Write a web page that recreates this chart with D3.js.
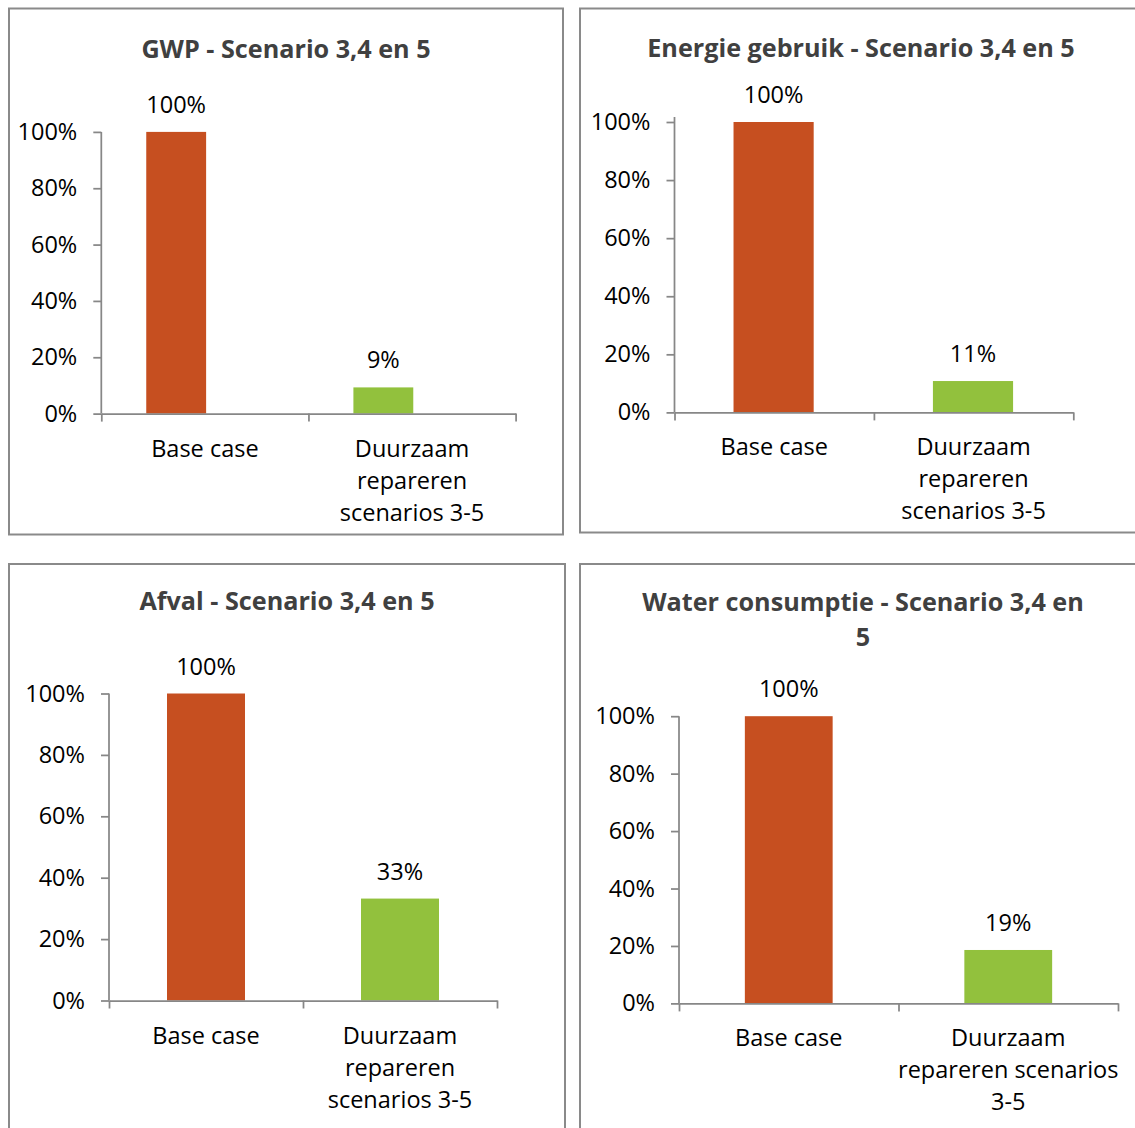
<!DOCTYPE html>
<html>
<head>
<meta charset="utf-8">
<script src="https://cdn.jsdelivr.net/npm/d3@7"></script>
<style>
  html, body { margin: 0; padding: 0; background: #fff; }
  svg { display: block; font-family: "Open Sans", sans-serif; }
</style>
</head>
<body>
<svg id="chart" width="1135" height="1128"></svg>
<script>
// chart data
const titles = [
  ["GWP - Scenario 3,4 en 5"],
  ["Energie gebruik - Scenario 3,4 en 5"],
  ["Afval - Scenario 3,4 en 5"],
  ["Water consumptie - Scenario 3,4 en", "5"],
];
const categories = ["Base case", "Duurzaam repareren scenarios 3-5"];
const categoryLines = [
  [["Base case"], ["Duurzaam", "repareren", "scenarios 3-5"]],
  [["Base case"], ["Duurzaam", "repareren", "scenarios 3-5"]],
  [["Base case"], ["Duurzaam", "repareren", "scenarios 3-5"]],
  [["Base case"], ["Duurzaam", "repareren scenarios", "3-5"]],
];
const gwpValues = [1.0, 0.093];
const energieValues = [1.0, 0.108];
const afvalValues = [1.0, 0.332];
const waterValues = [1.0, 0.186];
const yTickValues = [0, 0.2, 0.4, 0.6, 0.8, 1.0];

const barColors = ["#c64f20", "#92c13d"];
const axisColor = "#878787";

// panel layout (pixels)
const panels = [
  { values: gwpValues, box: [9, 8.5, 563, 534.5], x: [101.3, 515.6], y: [413.6, 131.9], titleY: 58, barWidth: 0.289, barOffset: 0.217, overshoot: 0 },
  { values: energieValues, box: [580, 8.5, 1142, 532.5], x: [674.5, 1073.3], y: [412.4, 122], titleY: 57, barWidth: 0.402, barOffset: 0.296, overshoot: 5 },
  { values: afvalValues, box: [9, 564, 565, 1140], x: [109, 497], y: [1000.5, 693.5], titleY: 610, barWidth: 0.402, barOffset: 0.299, overshoot: 0 },
  { values: waterValues, box: [580, 564, 1146, 1140], x: [679, 1118], y: [1003.4, 716.2], titleY: 610.5, barWidth: 0.40, barOffset: 0.30, overshoot: 0 },
];

const svg = d3.select("#chart");
const pct = d3.format(".0%");

function drawPanel(cfg, i) {
  const g = svg.append("g").attr("class", "panel");
  const [x0, y0, x1, y1] = cfg.box;

  g.append("rect")
    .attr("x", x0).attr("y", y0)
    .attr("width", x1 - x0).attr("height", y1 - y0)
    .attr("fill", "#fff")
    .attr("stroke", "#8a8a8a")
    .attr("stroke-width", 2);

  // title
  g.append("text")
    .attr("x", (x0 + x1) / 2)
    .attr("y", cfg.titleY)
    .attr("text-anchor", "middle")
    .attr("font-weight", 700)
    .attr("font-size", 25.2)
    .attr("fill", "#404040")
    .selectAll("tspan")
    .data(titles[i])
    .join("tspan")
    .attr("x", (x0 + x1) / 2)
    .attr("dy", (d, k) => (k === 0 ? 0 : 35))
    .text((d) => d);

  const xScale = d3.scaleBand().domain(categories).range(cfg.x).padding(0);
  const yScale = d3.scaleLinear().domain([0, 1]).range(cfg.y);

  // bars
  g.append("g")
    .selectAll("rect")
    .data(cfg.values)
    .join("rect")
    .attr("x", (d, k) => xScale(categories[k]) + xScale.bandwidth() * cfg.barOffset)
    .attr("width", xScale.bandwidth() * cfg.barWidth)
    .attr("y", (d) => yScale(d))
    .attr("height", (d) => yScale(0) - yScale(d))
    .attr("fill", (d, k) => barColors[k]);

  // value labels
  g.append("g")
    .selectAll("text")
    .data(cfg.values)
    .join("text")
    .attr("x", (d, k) => xScale(categories[k]) + xScale.bandwidth() * (cfg.barOffset + cfg.barWidth / 2))
    .attr("y", (d) => yScale(d) - 19)
    .attr("text-anchor", "middle")
    .attr("font-size", 23.5)
    .attr("fill", "#000")
    .text((d) => pct(d));

  // y axis
  const gy = g.append("g")
    .attr("transform", `translate(${cfg.x[0]},0)`)
    .style("color", axisColor)
    .call(d3.axisLeft(yScale).tickValues(yTickValues).tickFormat(pct).tickSize(8).tickPadding(16).tickSizeOuter(0));
  gy.select(".domain").remove();
  gy.append("line")
    .attr("y1", yScale(0)).attr("y2", yScale(1) - cfg.overshoot)
    .attr("stroke", axisColor).attr("stroke-width", 1.75);
  gy.selectAll(".tick line").attr("stroke-width", 1.75);
  gy.selectAll(".tick text")
    .attr("font-family", "Open Sans")
    .attr("font-size", 23.5)
    .attr("fill", "#000");

  // x axis with ticks at category boundaries
  const boundary = d3.scaleLinear().domain([0, categories.length]).range(cfg.x);
  const gx = g.append("g")
    .attr("transform", `translate(0,${yScale(0)})`)
    .style("color", axisColor)
    .call(d3.axisBottom(boundary).tickValues(d3.range(categories.length + 1)).tickFormat("").tickSize(8).tickSizeOuter(0));
  gx.select(".domain").attr("stroke-width", 1.75);
  gx.selectAll(".tick line").attr("stroke-width", 1.75);

  // category labels
  g.append("g")
    .selectAll("text")
    .data(categories)
    .join("text")
    .attr("text-anchor", "middle")
    .attr("font-size", 23.5)
    .attr("fill", "#000")
    .attr("y", yScale(0) + 43)
    .each(function (cat, k) {
      const cx = xScale(cat) + xScale.bandwidth() / 2;
      d3.select(this)
        .selectAll("tspan")
        .data(categoryLines[i][k])
        .join("tspan")
        .attr("x", cx)
        .attr("dy", (d, n) => (n === 0 ? 0 : 32))
        .text((d) => d);
    });
}

panels.forEach(drawPanel);
</script>
</body>
</html>
